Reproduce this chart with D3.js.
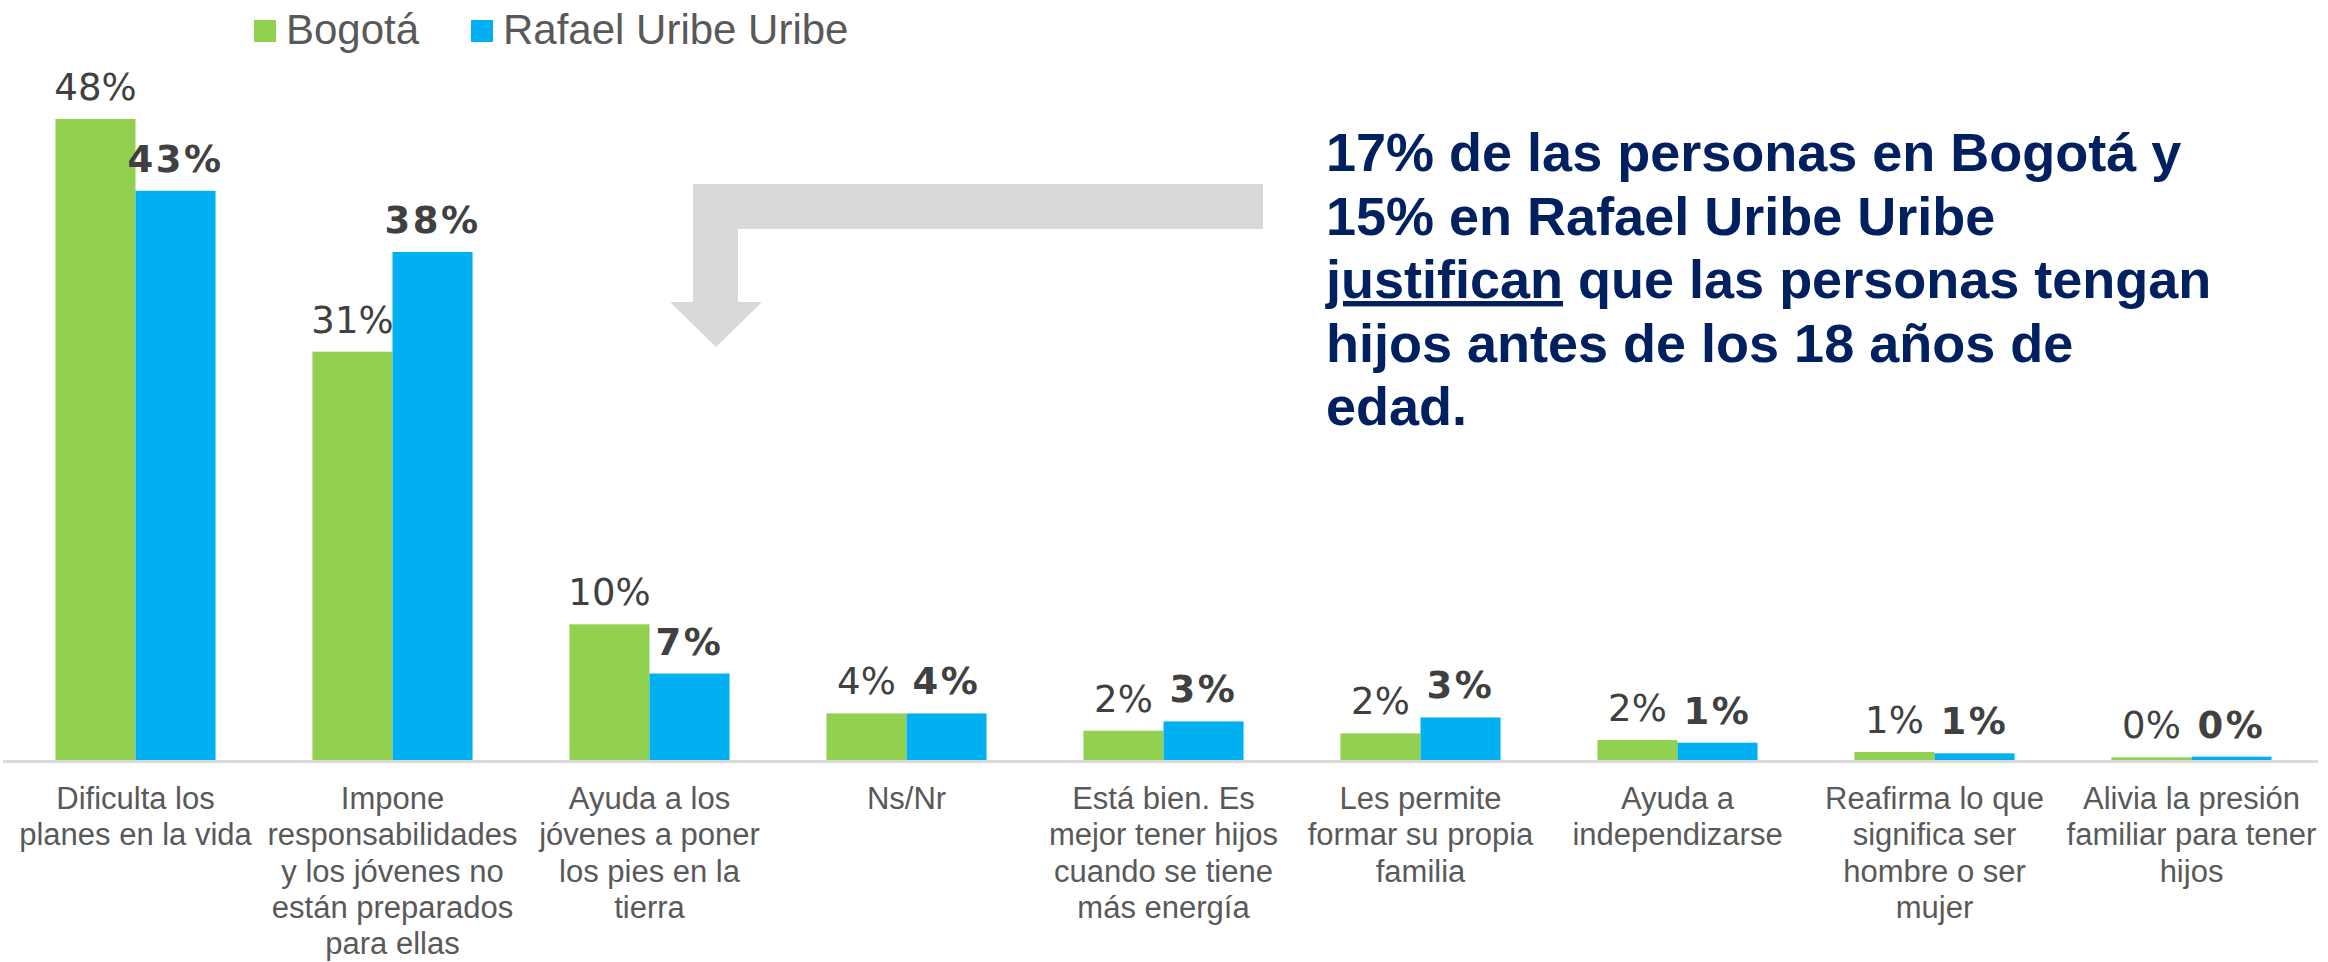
<!DOCTYPE html>
<html>
<head>
<meta charset="utf-8">
<script src="https://cdn.jsdelivr.net/npm/d3@7"></script>
<style>
  body { margin: 0; background: #fff; }
  svg { display: block; }
</style>
</head>
<body>
<script>
// categories, one entry per group, already broken into lines
var categories = [
  ["Dificulta los", "planes en la vida"],
  ["Impone", "responsabilidades", "y los jóvenes no", "están preparados", "para ellas"],
  ["Ayuda a los", "jóvenes a poner", "los pies en la", "tierra"],
  ["Ns/Nr"],
  ["Está bien. Es", "mejor tener hijos", "cuando se tiene", "más energía"],
  ["Les permite", "formar su propia", "familia"],
  ["Ayuda a", "independizarse"],
  ["Reafirma lo que", "significa ser", "hombre o ser", "mujer"],
  ["Alivia la presión", "familiar para tener", "hijos"]
];
var series = ["Bogotá", "Rafael Uribe Uribe"];
var bogota = [48.2, 30.7, 10.2, 3.5, 2.2, 2.0, 1.5, 0.6, 0.2];
var rafael = [42.8, 38.2, 6.5, 3.5, 2.9, 3.2, 1.3, 0.5, 0.25];
var colors = ["#92D050", "#00B0F0"];
var noteLines = [
  [{t: "17% de las personas en Bogotá y"}],
  [{t: "15% en Rafael Uribe Uribe"}],
  [{t: "justifican", u: true}, {t: " que las personas tengan"}],
  [{t: "hijos antes de los 18 años de"}],
  [{t: "edad."}]
];

var W = 2328, H = 962;
var svg = d3.select("body").append("svg").attr("width", W).attr("height", H);

var x0 = d3.scaleBand().domain(d3.range(categories.length))
  .range([7, 2320]).paddingInner(0.377).paddingOuter(0.1885);
var x1 = d3.scaleBand().domain(series).range([0, x0.bandwidth()]);
var y = d3.scaleLinear().domain([0, 50]).range([760, 95]);

// axis
var axis = svg.append("g").attr("transform", "translate(0,761.5)")
  .call(d3.axisBottom(x0).tickSize(0).tickSizeOuter(0).tickFormat(""));
axis.select(".domain").attr("stroke", "#d9d9d9").attr("stroke-width", 3).attr("d", "M3,0H2318");
axis.selectAll(".tick text").remove();
axis.selectAll(".tick").each(function(d) {
  var t = d3.select(this).append("text")
    .attr("fill", "#595959")
    .attr("font-family", "'Liberation Sans', Arial, sans-serif")
    .attr("font-size", 31)
    .attr("text-anchor", "middle");
  categories[d].forEach(function(line, i) {
    t.append("tspan").attr("x", 0).attr("y", 47.5 + i * 36.3).text(line);
  });
});

// bars
var rows = categories.map(function(c, i) { return [bogota[i], rafael[i]]; });
var groups = svg.append("g").selectAll("g").data(rows).join("g")
  .attr("transform", function(d, i) { return "translate(" + x0(i) + ",0)"; });

groups.selectAll("rect").data(function(d) { return d; }).join("rect")
  .attr("x", function(d, j) { return x1(series[j]); })
  .attr("y", function(d) { return y(d); })
  .attr("width", x1.bandwidth())
  .attr("height", function(d) { return y(0) - y(d); })
  .attr("fill", function(d, j) { return colors[j]; });

groups.selectAll("text").data(function(d) { return d; }).join("text")
  .attr("x", function(d, j) { return x1(series[j]) + x1.bandwidth() / 2; })
  .attr("y", function(d) { return y(d) - 19; })
  .attr("text-anchor", "middle")
  .attr("fill", "#404040")
  .attr("font-family", "'DejaVu Sans', Verdana, sans-serif")
  .attr("font-size", 37)
  .attr("font-weight", function(d, j) { return j === 1 ? "bold" : "normal"; })
  .attr("letter-spacing", function(d, j) { return j === 1 ? 2.5 : 0; })
  .text(function(d) { return Math.round(d) + "%"; });

// legend
var legX = [254, 471];
var leg = svg.append("g").selectAll("g").data(series).join("g")
  .attr("transform", function(d, i) { return "translate(" + legX[i] + ",0)"; });
leg.append("rect").attr("x", 0).attr("y", 20).attr("width", 22).attr("height", 22)
  .attr("fill", function(d, i) { return colors[i]; });
leg.append("text").attr("x", 32).attr("y", 44)
  .attr("fill", "#595959")
  .attr("font-family", "'Liberation Sans', Arial, sans-serif")
  .attr("font-size", 42)
  .text(function(d) { return d; });

// grey arrow
svg.append("path")
  .attr("d", "M1263,184 L693,184 L693,302 L670,302 L716,347 L762,302 L738,302 L738,229 L1263,229 Z")
  .attr("fill", "#d9d9d9");

// note
var note = svg.append("text")
  .attr("font-family", "'Liberation Sans', Arial, sans-serif")
  .attr("font-size", 54)
  .attr("font-weight", "bold")
  .attr("fill", "#002060");
noteLines.forEach(function(parts, i) {
  parts.forEach(function(p, k) {
    var ts = note.append("tspan").text(p.t);
    if (k === 0) ts.attr("x", 1326).attr("y", 171 + i * 63.5);
    if (p.u) ts.attr("text-decoration", "underline");
  });
});
</script>
</body>
</html>
